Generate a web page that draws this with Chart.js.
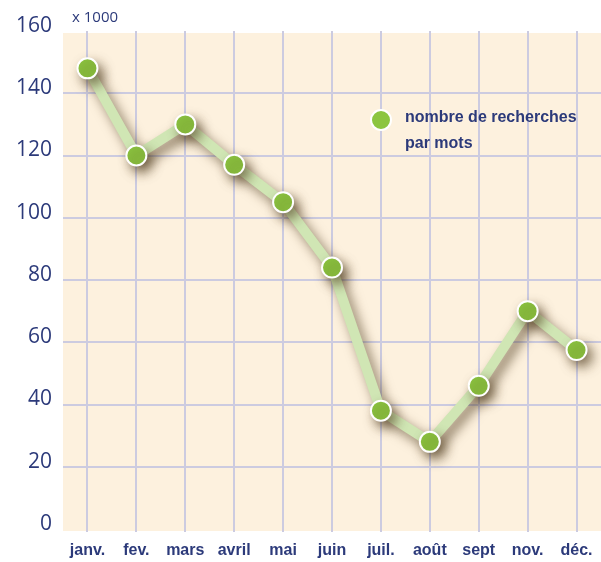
<!DOCTYPE html>
<html>
<head>
<meta charset="utf-8">
<script src="https://cdn.jsdelivr.net/npm/chart.js@4/dist/chart.umd.min.js"></script>
<style>
  html, body { margin: 0; padding: 0; background: #ffffff; }
  #wrap { width: 601px; height: 562px; }
</style>
</head>
<body>
<div id="wrap"><canvas id="chart" width="601" height="562"></canvas></div>
<script>
// Données (en milliers)
const months = ["janv.", "fev.", "mars", "avril", "mai", "juin", "juil.", "août", "sept", "nov.", "déc."];
const searches = [148, 120, 130, 117, 105, 84, 38, 28, 46, 70, 57.5];
const yTicks = [0, 20, 40, 60, 80, 100, 120, 140, 160];
const seriesLabel = ["nombre de recherches", "par mots"];
const unitLabel = "x 1000";

const navy = '#2c3a7a';
const condensed = '"Liberation Sans Narrow", "Arial Narrow", "Liberation Sans", sans-serif';

// Fond beige de la zone du graphique
const bgPlugin = {
  id: 'bg',
  beforeDraw(chart) {
    const { ctx, chartArea } = chart;
    ctx.save();
    ctx.fillStyle = '#fdf1de';
    ctx.fillRect(chartArea.left, chartArea.top + 2, chartArea.right - chartArea.left, chartArea.bottom - chartArea.top);
    ctx.restore();
  }
};

// Ombre portée sous la courbe et les points
const shadowPlugin = {
  id: 'shadow',
  beforeDatasetDraw(chart) {
    const ctx = chart.ctx;
    ctx.save();
    ctx.shadowColor = 'rgba(70, 50, 20, 0.6)';
    ctx.shadowBlur = 12;
    ctx.shadowOffsetX = 5;
    ctx.shadowOffsetY = 6;
  },
  afterDatasetDraw(chart) {
    chart.ctx.restore();
  }
};

// Légende et unité
const textPlugin = {
  id: 'texts',
  afterDraw(chart) {
    const ctx = chart.ctx;
    ctx.save();
    ctx.fillStyle = navy;
    ctx.font = '15px "Open Sans", sans-serif';
    ctx.textBaseline = 'middle';
    ctx.fillText(unitLabel, 72, 18);

    ctx.beginPath();
    ctx.arc(381, 120, 10, 0, Math.PI * 2);
    ctx.fillStyle = '#8cc540';
    ctx.fill();
    ctx.lineWidth = 2;
    ctx.strokeStyle = '#ffffff';
    ctx.stroke();

    ctx.fillStyle = navy;
    ctx.font = 'bold 16px ' + condensed;
    ctx.fillText(seriesLabel[0], 405, 118);
    ctx.fillText(seriesLabel[1], 405, 144);
    ctx.restore();
  }
};

const ctx = document.getElementById('chart').getContext('2d');
new Chart(ctx, {
  type: 'line',
  data: {
    labels: months,
    datasets: [{
      data: searches,
      borderColor: '#d0e6b4',
      borderWidth: 10,
      tension: 0,
      pointRadius: 10,
      pointBackgroundColor: '#8cc540',
      pointBorderColor: '#ffffff',
      pointBorderWidth: 2,
      clip: false
    }]
  },
  options: {
    responsive: false,
    animation: false,
    layout: { autoPadding: false, padding: { top: 31, right: 0, left: 0, bottom: 0 } },
    plugins: { legend: { display: false }, tooltip: { enabled: false } },
    scales: {
      x: {
        offset: true,
        grid: { color: '#cccbe0', lineWidth: 2, tickLength: 3, offset: false },
        border: { display: false },
        ticks: {
          color: navy,
          font: { family: condensed, size: 16, weight: 'bold' },
          padding: 9,
          maxRotation: 0,
          autoSkip: false
        },
        afterFit(scale) {
          scale.height = 33;
          scale.paddingLeft = 0;
          scale.paddingRight = 0;
        }
      },
      y: {
        min: 0,
        max: 160,
        afterBuildTicks(scale) { scale.ticks = yTicks.map(v => ({ value: v })); },
        grid: {
          drawTicks: false,
          lineWidth: 2,
          color: c => (c.tick && (c.tick.value === 0 || c.tick.value === 160)) ? 'rgba(0,0,0,0)' : '#cccbe0'
        },
        border: { display: false },
        ticks: {
          color: navy,
          font: { family: '"Open Sans", sans-serif', size: 21 },
          padding: 11,
          labelOffset: -5
        },
        afterFit(scale) { scale.width = 63; }
      }
    }
  },
  plugins: [bgPlugin, shadowPlugin, textPlugin]
});
</script>
</body>
</html>
